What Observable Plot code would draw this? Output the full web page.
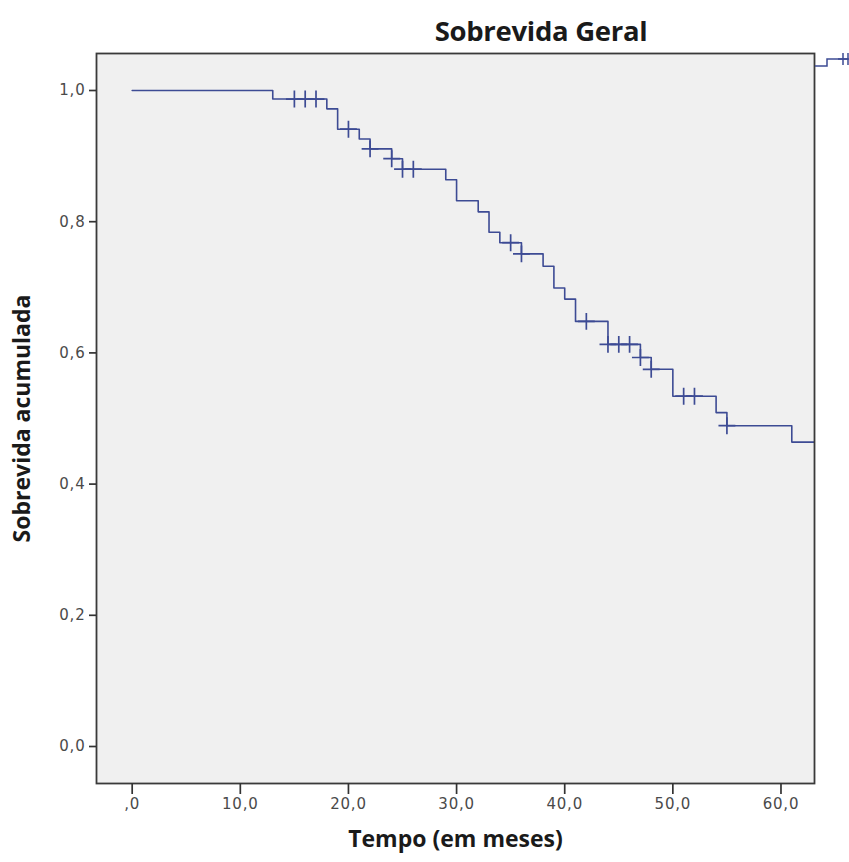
<!DOCTYPE html>
<html>
<head>
<meta charset="utf-8">
<script src="https://cdn.jsdelivr.net/npm/d3@7"></script>
<script src="https://cdn.jsdelivr.net/npm/@observablehq/plot@0.6"></script>
<style>
  html, body { margin: 0; padding: 0; background: #ffffff; }
  #wrap { position: relative; width: 849px; height: 862px; overflow: hidden; }
  #title { position: relative; height: 45px; }
  #title span { position: absolute; left: 541px; top: 17px; transform: translateX(-50%);
    font-family: "Open Sans", "Noto Sans", sans-serif; font-weight: 700; font-size: 27.5px;
    line-height: 1; color: #1a1a1a; white-space: nowrap; letter-spacing: -0.3px; }
  #legendFrag { position: absolute; left: 812px; top: 50px; }
  #chart svg [aria-label="x-axis tick label"],
  #chart svg [aria-label="y-axis tick label"] {
    font-size: 15px !important; font-family: "DejaVu Sans", sans-serif !important; letter-spacing: 0.8px;
  }
</style>
</head>
<body>
<div id="wrap">
  <div id="title"><span>Sobrevida Geral</span></div>
  <div id="chart"></div>
  <svg id="legendFrag" width="37" height="22" viewBox="0 0 37 22">
    <path d="M3,16 H15 V9 H37" fill="none" stroke="#3d4b94" stroke-width="1.5"/>
    <path d="M31,3 V15 M26,9 H36" fill="none" stroke="#3d4b94" stroke-width="1.5"/>
    <path d="M36,3 V15" fill="none" stroke="#3d4b94" stroke-width="1.5"/>
  </svg>
</div>
<script>
// Kaplan-Meier steps (time in months, cumulative survival after the step)
const stepTimes    = [0, 13, 18, 19, 21, 22, 24, 25, 29, 30, 32, 33, 34, 36, 38, 39, 40, 41, 44, 47, 48, 50, 54, 55, 61, 63.1];
const stepSurvival = [1.000, 0.987, 0.972, 0.941, 0.926, 0.911, 0.896, 0.880, 0.864, 0.832, 0.815, 0.784, 0.768, 0.751, 0.732, 0.699, 0.682, 0.648, 0.613, 0.593, 0.575, 0.534, 0.509, 0.489, 0.464, 0.464];

// Censored observations
const censorTimes    = [15, 16, 17, 20, 22, 24, 25, 26, 35, 36, 42, 44, 45, 46, 47, 48, 51, 52, 55];
const censorSurvival = [0.987, 0.987, 0.987, 0.941, 0.911, 0.896, 0.880, 0.880, 0.768, 0.751, 0.648, 0.613, 0.613, 0.613, 0.593, 0.575, 0.534, 0.534, 0.489];

// Axis ticks and labels
const xTicks = [0, 10, 20, 30, 40, 50, 60];
const xTickLabels = [",0", "10,0", "20,0", "30,0", "40,0", "50,0", "60,0"];
const yTicks = [0, 0.2, 0.4, 0.6, 0.8, 1.0];
const yTickLabels = ["0,0", "0,2", "0,4", "0,6", "0,8", "1,0"];

const xTitle = "Tempo (em meses)";
const yTitle = "Sobrevida acumulada";

const steps = stepTimes.map((t, i) => ({t, s: stepSurvival[i]}));
const censors = censorTimes.map((t, i) => ({t, s: censorSurvival[i]}));

const lineColor = "#3d4b94";
const titleFont = "'Open Sans', 'Noto Sans', sans-serif";

const chart = Plot.plot({
  width: 849,
  height: 817,
  marginTop: 8,
  marginBottom: 79,
  marginLeft: 96,
  marginRight: 35,
  style: { background: "transparent", fontFamily: "'DejaVu Sans', sans-serif", fontSize: "15px", color: "#444" },
  x: { domain: [-3.3, 63.1] },
  y: { domain: [-0.0564, 1.0564] },
  marks: [
    Plot.frame({ fill: "#f0f0f0", stroke: null }),
    Plot.line(steps, { x: "t", y: "s", curve: "step-after", stroke: lineColor, strokeWidth: 1.6, clip: true }),
    Plot.dot(censors, { x: "t", y: "s", symbol: "plus", r: 5.5, stroke: lineColor, strokeWidth: 1.7 }),
    Plot.frame({ stroke: "#3a3a3a", strokeWidth: 1.8 }),
    Plot.axisX({ ticks: xTicks, tickFormat: (d) => xTickLabels[xTicks.indexOf(d)], tickSize: 11, tickPadding: 4,
      strokeWidth: 1.7, stroke: "#333", fill: "#4a4a4a", fontSize: 15, label: null }),
    Plot.axisY({ ticks: yTicks, tickFormat: (d) => yTickLabels[yTicks.indexOf(d)], tickSize: 7, tickPadding: 4,
      strokeWidth: 1.7, stroke: "#333", fill: "#4a4a4a", fontSize: 15, label: null }),
    Plot.text([xTitle], { frameAnchor: "bottom", dy: 63, text: d => d, fontSize: 23, fontWeight: 700,
      textAnchor: "middle", fontFamily: titleFont, fill: "#1a1a1a" }),
    Plot.text([yTitle], { frameAnchor: "left", dx: -74, rotate: -90, text: d => d, fontSize: 23, fontWeight: 700,
      textAnchor: "middle", fontFamily: titleFont, fill: "#1a1a1a" })
  ]
});
document.getElementById("chart").appendChild(chart);
</script>
</body>
</html>
